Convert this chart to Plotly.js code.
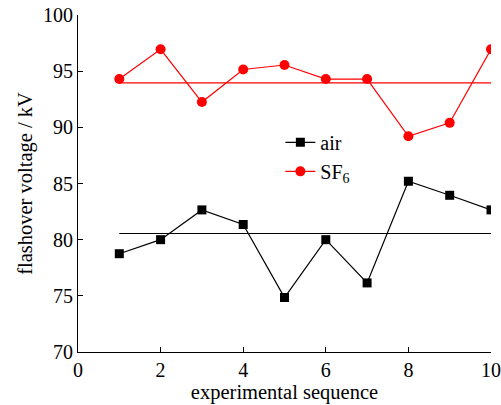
<!DOCTYPE html>
<html><head><meta charset="utf-8">
<script src="https://cdn.plot.ly/plotly-3.0.1.min.js"></script>
<style>body{margin:0;background:#fff}#c{width:501px;height:405px}</style>
</head><body><div id="c"></div>
<script>
const seq = [1,2,3,4,5,6,7,8,9,10];
const air = [78.75,80.0,82.65,81.35,74.85,80.0,76.15,85.2,83.95,82.65];
const sf6 = [94.3,96.95,92.25,95.15,95.55,94.3,94.3,89.2,90.4,96.95];
const airMean = 80.55;
const sf6Mean = 93.95;
const meanX = [1,10];
const fnt = "Liberation Serif, Times New Roman, serif";
const traces = [
  {x:meanX, y:[airMean,airMean], mode:'lines', line:{color:'#000',width:1.2}, showlegend:false, hoverinfo:'skip'},
  {x:meanX, y:[sf6Mean,sf6Mean], mode:'lines', line:{color:'#ff0000',width:1.2}, showlegend:false, hoverinfo:'skip'},
  {x:seq, y:air, name:'air', mode:'lines+markers', line:{color:'#000',width:1.2}, marker:{symbol:'square',size:9,color:'#000'}},
  {x:seq, y:sf6, name:'SF<sub>6</sub>', mode:'lines+markers', line:{color:'#ff0000',width:1.2}, marker:{symbol:'circle',size:10,color:'#ff0000'}}
];
const layout = {
  width:501, height:405,
  margin:{l:78,r:10,t:15,b:53},
  paper_bgcolor:'#fff', plot_bgcolor:'#fff',
  font:{family:fnt, size:20, color:'#000'},
  showlegend:true,
  legend:{x:0.49, y:0.68, xanchor:'left', yanchor:'top', bgcolor:'rgba(0,0,0,0)', font:{family:fnt,size:20}, itemwidth:30, tracegroupgap:0},
  xaxis:{range:[0,10], tickvals:[0,2,4,6,8,10], ticks:'inside', ticklen:5, tickwidth:1, tickcolor:'#000',
    showline:true, linecolor:'#000', linewidth:1, showgrid:false, zeroline:false, mirror:false,
    tickfont:{family:fnt,size:20}, title:{text:'experimental sequence', font:{family:fnt,size:20.5}, standoff:0}},
  yaxis:{range:[70,100], tickvals:[70,75,80,85,90,95,100], ticks:'inside', ticklen:5, tickwidth:1, tickcolor:'#000',
    showline:true, linecolor:'#000', linewidth:1, showgrid:false, zeroline:false, mirror:false,
    tickfont:{family:fnt,size:20}, title:{text:'flashover voltage / kV', font:{family:fnt,size:20.5}, standoff:4}}
};
Plotly.newPlot('c', traces, layout, {staticPlot:true, displayModeBar:false});
</script></body></html>
